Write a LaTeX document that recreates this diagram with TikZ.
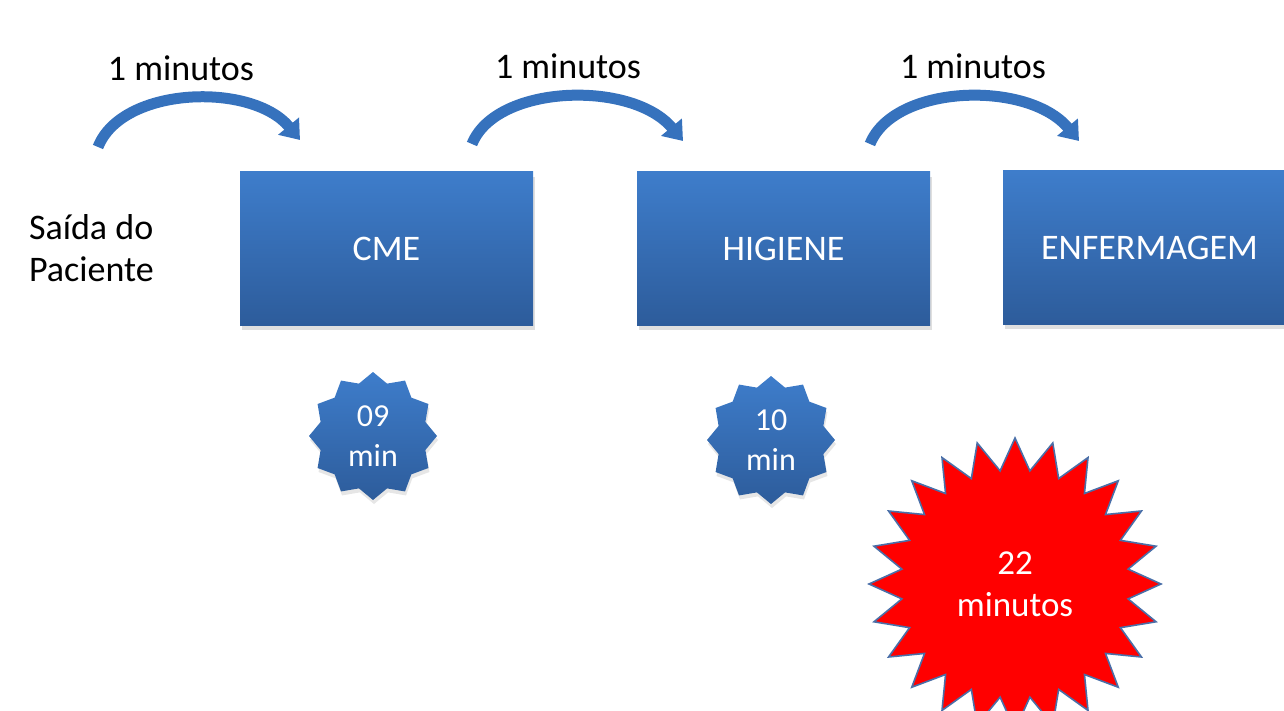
\documentclass[tikz,border=0pt]{standalone}
\usepackage{fontspec}
\setmainfont{Carlito}
\usetikzlibrary{arrows.meta,shapes.geometric,shadows}
\definecolor{boxtop}{HTML}{3E7DCB}
\definecolor{boxbot}{HTML}{2D5C9B}
\definecolor{arrowblue}{HTML}{3672BD}
\definecolor{starline}{HTML}{4A6FA8}

\begin{document}
\begin{tikzpicture}[x=0.5pt,y=-0.5pt,
  stepbox/.style={rectangle, top color=boxtop, bottom color=boxbot, draw=none,
    minimum width=146.5pt, minimum height=76.5pt, text=white, font=\fontsize{18}{21}\selectfont,
    drop shadow={shadow xshift=1pt, shadow yshift=-2.5pt, opacity=0.25}},
  timestar/.style={star, star points=12, star point ratio=1.18, minimum size=64pt, inner sep=0pt,
    top color=boxtop, bottom color=boxbot, text=white, align=center,
    font=\fontsize{16}{20}\selectfont,
    drop shadow={shadow xshift=0.5pt, shadow yshift=-2pt, opacity=0.2}},
  curvearrow/.style={draw=arrowblue, line width=5.5pt, -{Triangle[length=9pt,width=13pt]}},
  lbl/.style={font=\fontsize{18}{21}\selectfont}]
  \useasboundingbox (0,0) rectangle (1284,711);
  \clip (0,0) rectangle (1284,711);
  % boxes
  \node[stepbox] (cme) at (386.5,248.5) {CME};
  \node[stepbox] (higiene) at (783.5,248.5) {HIGIENE};
  \node[stepbox] (enferm) at (1149.5,247.5) {ENFERMAGEM};
  % start label
  \node[lbl, anchor=west, align=left] (saida) at (22,248) {Saída do\\Paciente};
  % curved arrows
  \coordinate (a1s) at (98,147);
  \coordinate (a1e) at (300,140);
  \coordinate (a2s) at (472,144);
  \coordinate (a2e) at (683,141);
  \coordinate (a3s) at (870,144);
  \coordinate (a3e) at (1079,141);
  \draw[curvearrow] (a1s) .. controls (122,86) and (252,82) .. (a1e);
  \draw[curvearrow] (a2s) .. controls (496,84) and (632,80) .. (a2e);
  \draw[curvearrow] (a3s) .. controls (894,84) and (1028,80) .. (a3e);
  \node[lbl] (t1) at (181,68) {1 minutos};
  \node[lbl] (t2) at (568,66) {1 minutos};
  \node[lbl] (t3) at (973,66) {1 minutos};
  % times
  \node[timestar] (s1) at (373,436) {09\\min};
  \node[timestar] (s2) at (771,440) {10\\min};
  \node[star, star points=24, star point ratio=1.28, minimum size=146pt, inner sep=0pt,
    fill=red, draw=starline, line width=0.8pt, text=white, align=center,
    font=\fontsize{17.5}{21}\selectfont] (total) at (1015,584) {22\\minutos};
\end{tikzpicture}
\end{document}
